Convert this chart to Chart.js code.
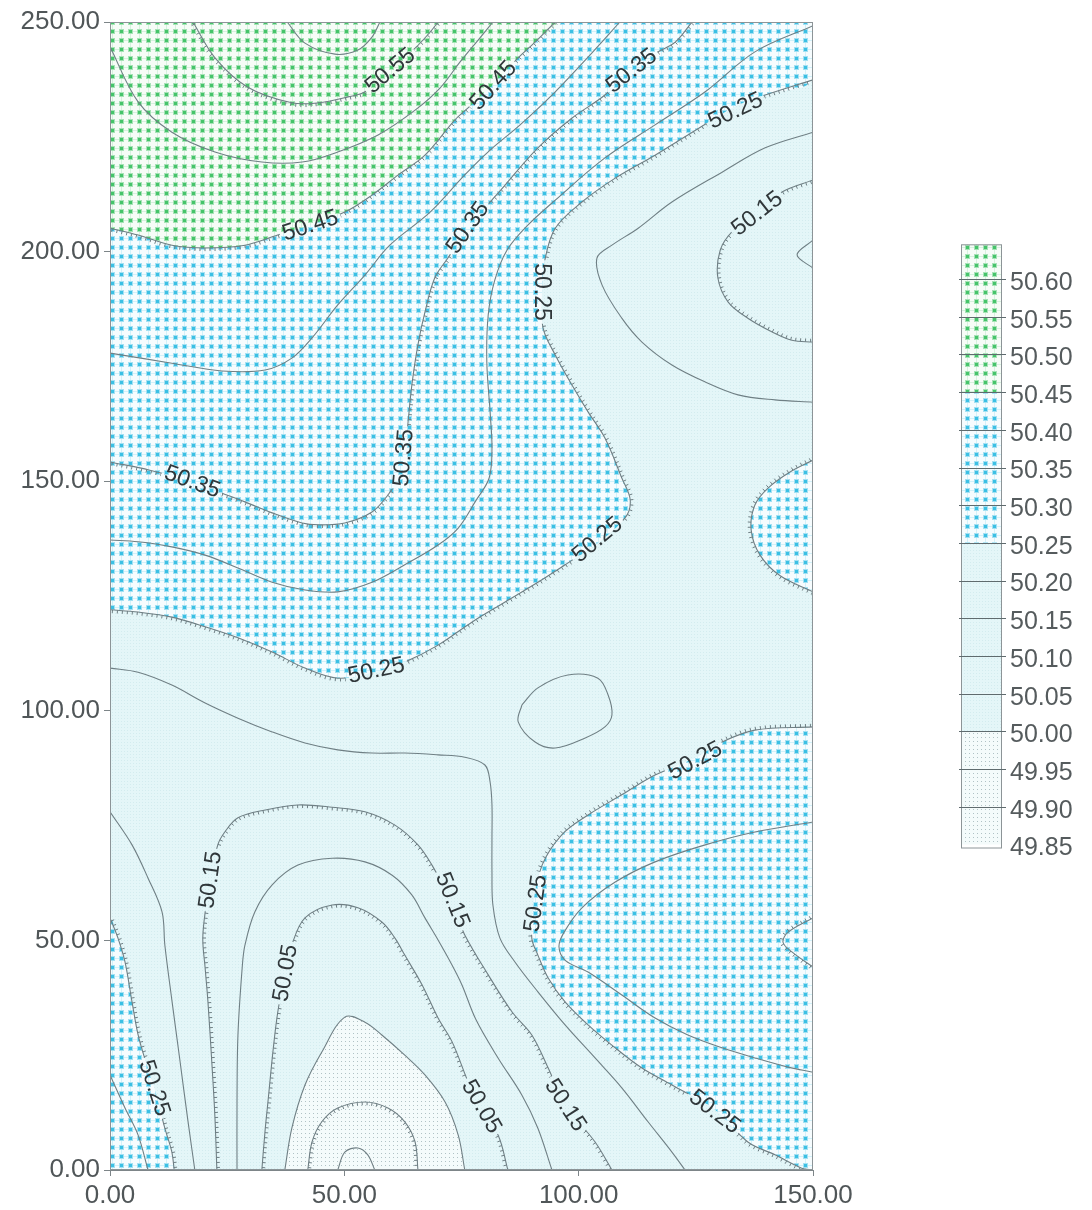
<!DOCTYPE html>
<html>
<head>
<meta charset="utf-8">
<title>Contour map</title>
<script src="https://cdn.jsdelivr.net/npm/chart.js@4.4.1/dist/chart.umd.min.js"></script>
<style>
  html, body { margin: 0; padding: 0; background: #ffffff; }
  #wrap { position: relative; width: 1092px; height: 1210px; }
</style>
</head>
<body>
<div id="wrap"><canvas id="map"></canvas></div>
<script>
// ---- axes ----
const X_MIN = 0, X_MAX = 150, Y_MIN = 0, Y_MAX = 250;
const X_TICKS = [0, 50, 100, 150];
const Y_TICKS = [0, 50, 100, 150, 200, 250];
const LEGEND_LEVELS = [50.60, 50.55, 50.50, 50.45, 50.40, 50.35, 50.30, 50.25,
                       50.20, 50.15, 50.10, 50.05, 50.00, 49.95, 49.90, 49.85];

// ---- contour polylines, [x, y] in map units ----
// hachured lines run with the downhill side on their right
const c5060  = [[37.8,250],[41.6,245.4],[48.0,243.0],[52.9,243.9],[55.9,246.7],[57.6,250]];
const c5055  = [[17.7,250],[22.4,242.2],[29.4,235.8],[38.8,232.4],[44.4,232.4],[50.8,233.7],[54.4,234.8],[59.7,239.5],[65.1,244.3],[68.3,247.8],[70.0,250]];
const c5050  = [[0,244.6],[6.0,232.6],[13.2,226.0],[22.4,221.7],[32.4,219.5],[41.0,219.5],[48.6,221.7],[57.2,225.4],[65.1,230.8],[70.4,235.6],[74.7,241.3],[78.9,246.5],[81.7,250]];
const c5045  = [[0,205.1],[6.0,203.6],[13.2,201.4],[20.3,200.8],[28.8,201.4],[35.8,203.6],[42.7,205.8],[50.1,208.6],[55.9,212.3],[61.5,216.7],[67.2,221.0],[73.6,228.7],[76.4,231.3],[81.7,236.3],[87.1,242.2],[90.7,245.6],[95.0,250]];
const c5040  = [[0,177.9],[13.2,175.7],[23.9,174.0],[33.1,174.2],[38.8,176.8],[43.1,181.2],[48.6,188.4],[54.4,194.9],[59.7,201.4],[68.3,208.6],[75.7,216.7],[81.1,222.1],[87.5,227.6],[95.0,234.8],[102.4,242.8],[108.8,250]];
const c5035a = [[0,154.2],[8.5,152.4],[17.7,149.8],[23.9,147.4],[28.8,145.5],[34.6,143.1],[41.0,140.9],[44.4,140.5],[50.1,140.9],[55.9,143.3],[59.3,147.0],[61.5,150.7],[62.9,155.7],[63.6,162.9],[64.4,170.9],[65.7,179.7],[67.2,186.8],[69.3,194.3],[72.1,198.6],[76.4,205.1],[84.3,214.5],[91.3,222.6],[98.6,229.1],[105.6,234.1],[111.0,239.5],[116.9,243.5],[120.6,245.6],[124.2,250]];
const c5035b = [[150,54.9],[144.7,51.8],[143.6,49.6],[145.5,47.5],[150,44.2]];
const c5030a = [[0,137.2],[6.0,136.8],[13.2,135.7],[20.3,133.9],[27.3,131.1],[34.6,128.0],[41.6,126.3],[48.6,125.9],[55.9,128.0],[62.9,131.8],[70.0,136.1],[74.3,139.8],[77.9,145.5],[80.9,150.7],[81.5,157.2],[81.1,165.1],[80.4,176.0],[80.7,186.2],[82.1,193.8],[84.7,200.3],[89.2,205.8],[95.0,211.2],[105.6,220.4],[116.3,227.6],[127.0,234.8],[137.6,243.5],[150,249.2]];
const c5030b = [[0,20.7],[3.2,13.5],[6.0,7.6],[8.1,0]];
const c5030c = [[150,75.8],[137.6,73.6],[127.0,70.8],[116.3,67.1],[107.8,62.7],[100.7,57.1],[96.9,51.8],[95.8,48.6],[97.2,45.6],[102.0,43.1],[109.2,38.1],[116.3,33.1],[123.3,29.4],[130.6,26.6],[137.6,24.4],[144.7,22.4],[150,21.3]];
const c5025a = [[0,122.0],[6.0,121.5],[13.2,120.4],[20.3,118.3],[27.3,115.9],[34.6,112.8],[41.6,109.3],[48.6,107.1],[56.5,108.4],[62.9,110.6],[70.0,114.3],[77.2,119.3],[84.3,123.7],[91.3,128.0],[97.1,131.8],[103.5,136.1],[109.9,142.0],[111.0,145.9],[109.2,150.7],[105.6,159.4],[102.0,165.1],[98.6,170.9],[95.0,177.5],[92.4,183.4],[92.2,191.6],[92.8,198.2],[95.0,205.1],[100.7,210.8],[107.8,216.0],[116.3,221.0],[123.3,225.4],[134.0,231.9],[139.8,234.1],[150,237.4]];
const c5025b = [[150,154.6],[145.1,152.0],[140.4,148.5],[137.6,144.8],[136.8,139.4],[138.7,133.9],[143.0,129.4],[150,125.9]];
const c5025c = [[150,96.5],[137.6,95.8],[130.6,93.2],[124.8,89.7],[116.3,86.0],[109.2,81.7],[102.0,77.3],[96.4,73.0],[92.2,66.4],[90.3,57.7],[90.0,50.5],[91.3,46.8],[93.5,41.8],[97.1,36.6],[102.0,31.6],[107.8,26.6],[113.5,22.2],[119.9,18.5],[129.1,13.1],[136.1,6.1],[141.9,3.3],[147.6,0.4],[150,0]];
const c5025d = [[13.7,0],[13.2,3.9],[11.7,9.1],[9.6,17.4],[7.5,24.0],[6.0,29.4],[4.7,36.6],[3.2,45.3],[1.7,50.5],[0,54.9]];
const c5020a = [[150,226.0],[139.8,222.6],[130.6,217.3],[119.9,210.8],[112.7,205.1],[107.1,201.4],[103.9,198.6],[105.0,192.7],[109.2,185.5],[113.5,180.3],[119.9,175.3],[127.0,171.6],[134.0,168.8],[141.9,167.7],[150,167.2]];
const c5020b = [[0,109.3],[6.0,108.4],[13.2,105.6],[20.3,101.7],[27.3,98.4],[34.6,95.4],[41.6,93.0],[48.6,91.5],[55.9,90.8],[62.9,90.8],[70.0,90.4],[75.7,89.9],[80.0,88.2],[81.1,84.5],[81.5,79.5],[81.5,72.3],[81.5,64.9],[81.7,57.7],[83.2,50.5],[86.4,45.3],[91.3,38.8],[97.1,31.6],[103.5,24.4],[109.2,17.9],[114.8,10.5],[119.9,3.9],[122.7,0]];
const c5020c = [[0,78.0],[4.7,70.8],[8.1,63.6],[11.1,56.2],[11.7,49.0],[13.2,37.0],[14.9,24.0],[16.6,10.9],[18.1,0]];
const c5020d = [[87.9,101.3],[91.3,105.0],[97.7,107.8],[104.1,107.1],[106.3,103.4],[107.1,99.1],[105.6,96.5],[101.4,94.1],[95.0,91.9],[90.7,93.2],[87.1,97.6],[87.9,101.3]];
const c5015a = [[150,180.3],[145.5,180.7],[141.3,182.5],[136.1,185.5],[131.9,189.0],[129.7,194.3],[130.2,200.3],[132.7,204.3],[138.0,208.6],[143.4,213.0],[150,215.6]];
const c5015b = [[22.8,0],[22.4,11.3],[21.8,22.2],[20.9,36.6],[20.3,44.0],[19.8,50.5],[20.5,57.7],[21.3,63.2],[23.0,70.8],[24.5,73.6],[27.3,76.7],[33.1,78.4],[40.1,79.5],[47.4,79.0],[54.4,78.0],[60.8,75.1],[65.7,70.8],[68.7,66.4],[71.5,61.0],[73.6,56.6],[75.7,51.2],[80.7,42.5],[85.8,34.4],[90.0,29.4],[93.5,22.2],[97.1,14.2],[103.5,6.1],[107.1,0]];
const c5010a = [[150,202.5],[146.6,199.3],[150,196.4]];
const c5010b = [[27.1,0],[27.1,14.8],[27.3,29.4],[28.2,44.0],[28.8,49.0],[30.9,56.2],[34.6,62.1],[40.1,66.4],[47.4,67.9],[54.4,67.1],[60.2,64.2],[64.4,59.9],[67.2,54.9],[70.0,50.1],[73.0,44.6],[75.1,40.3],[78.1,32.7],[82.8,24.4],[87.9,16.3],[91.3,9.1],[94.3,0]];
const c5005  = [[32.4,0],[33.1,8.7],[33.7,14.8],[34.8,26.1],[35.8,34.4],[37.3,42.5],[38.8,49.0],[41.6,54.9],[47.4,57.7],[52.9,57.1],[58.0,54.0],[60.8,50.5],[62.9,46.8],[66.6,40.3],[70.0,33.1],[73.0,27.9],[76.4,19.2],[78.9,13.5],[82.8,7.6],[84.9,0]];
const c5000  = [[37.3,0],[38.8,9.1],[41.6,18.5],[45.2,25.7],[50.1,33.3],[54.4,32.2],[58.0,29.4],[62.9,25.0],[67.2,20.7],[71.5,14.8],[74.3,7.6],[75.7,0]];
const c4995  = [[42.2,0],[43.1,6.1],[45.2,10.5],[48.6,13.5],[54.4,14.8],[59.3,13.5],[62.9,10.5],[65.1,6.1],[65.7,0]];
const c4990  = [[48.6,0],[50.1,3.9],[52.9,4.8],[55.0,3.3],[56.5,0]];

const contours = [
  {level: 50.60, pts: c5060}, {level: 50.55, pts: c5055}, {level: 50.50, pts: c5050},
  {level: 50.45, pts: c5045}, {level: 50.40, pts: c5040},
  {level: 50.35, pts: c5035a}, {level: 50.35, pts: c5035b},
  {level: 50.30, pts: c5030a}, {level: 50.30, pts: c5030b}, {level: 50.30, pts: c5030c},
  {level: 50.25, pts: c5025a}, {level: 50.25, pts: c5025b}, {level: 50.25, pts: c5025c}, {level: 50.25, pts: c5025d},
  {level: 50.20, pts: c5020a}, {level: 50.20, pts: c5020b}, {level: 50.20, pts: c5020c}, {level: 50.20, pts: c5020d},
  {level: 50.15, pts: c5015a}, {level: 50.15, pts: c5015b},
  {level: 50.10, pts: c5010a}, {level: 50.10, pts: c5010b},
  {level: 50.05, pts: c5005}, {level: 50.00, pts: c5000},
  {level: 49.95, pts: c4995}, {level: 49.90, pts: c4990}
];

// contour labels: [level, x, y, rotation in degrees]
const contourLabels = [
  [50.55, 59.7, 239.5, -40], [50.45, 81.7, 236.3, -48], [50.35, 111.2, 239.5, -38],
  [50.25, 133.4, 230.8, -25], [50.15, 138.0, 208.4, -38], [50.45, 42.7, 205.8, -18],
  [50.35, 76.2, 205.3, -55], [50.25, 92.2, 191.2, 90], [50.35, 62.5, 155.1, -85],
  [50.35, 17.6, 150.0, 20], [50.25, 103.9, 137.4, -40], [50.25, 56.8, 108.9, -12],
  [50.25, 124.8, 89.3, -28], [50.15, 21.3, 63.2, -82], [50.15, 73.2, 58.8, 68],
  [50.25, 90.7, 58.1, -82], [50.05, 37.3, 42.9, -80], [50.25, 9.6, 17.9, 72],
  [50.05, 79.4, 13.9, 60], [50.15, 97.3, 14.2, 57], [50.25, 129.1, 12.8, 37]
];

// band edges used for the shaded zones
const GREEN_FROM = 50.45, CYAN_FROM = 50.25, LOW_BELOW = 50.00;

// ---- fill textures ----
function makePattern(step, paint) {
  const c = document.createElement('canvas');
  c.width = c.height = step;
  const g = c.getContext('2d');
  paint(g, step);
  return g.createPattern(c, 'repeat');
}
const PAT = {
  green: makePattern(9, (g, s) => {
    g.fillStyle = '#f6fcf7'; g.fillRect(0, 0, s, s);
    g.fillStyle = '#d6f1de'; g.fillRect(0, 4, s, 1); g.fillRect(4, 0, 1, s);
    g.fillStyle = '#a6e2b6'; g.fillRect(2, 2, 5, 5);
    g.fillStyle = '#45c46a'; g.fillRect(3, 3, 3, 3);
  }),
  cyan: makePattern(9, (g, s) => {
    g.fillStyle = '#f6fcfe'; g.fillRect(0, 0, s, s);
    g.fillStyle = '#d2f1f9'; g.fillRect(0, 4, s, 1); g.fillRect(4, 0, 1, s);
    g.fillStyle = '#a4e0f2'; g.fillRect(2, 2, 5, 5);
    g.fillStyle = '#3bc0e4'; g.fillRect(3, 3, 3, 3);
  }),
  pale: makePattern(3, (g, s) => {
    g.fillStyle = '#e4f6f8'; g.fillRect(0, 0, s, s);
    g.fillStyle = '#d3ecef'; g.fillRect(1, 1, 1, 1);
  }),
  low: makePattern(4, (g, s) => {
    g.fillStyle = '#f4fbfb'; g.fillRect(0, 0, s, s);
    g.fillStyle = '#b0c2c5'; g.fillRect(1, 1, 1, 1);
  })
};

const LINE_COLOR = '#6f7f84';
const TENSION = 0.35;
const toXY = pts => pts.map(([x, y]) => ({x, y}));

// shaded zones, each closed along the frame
const zones = [
  {pattern: PAT.cyan,  order: 3, pts: [...c5025a, [X_MAX, Y_MAX], [X_MIN, Y_MAX]]},
  {pattern: PAT.cyan,  order: 3, pts: c5025b},
  {pattern: PAT.cyan,  order: 3, pts: c5025c},
  {pattern: PAT.cyan,  order: 3, pts: [...c5025d, [X_MIN, Y_MIN]]},
  {pattern: PAT.green, order: 2, pts: [...c5045, [X_MIN, Y_MAX]]},
  {pattern: PAT.low,   order: 2, pts: c5000}
];

const datasets = [];
zones.forEach(z => datasets.push({
  data: toXY(z.pts), showLine: true, fill: 'shape', backgroundColor: z.pattern,
  borderColor: 'rgba(0,0,0,0)', borderWidth: 1, pointRadius: 0, tension: TENSION, order: z.order
}));
contours.forEach(c => datasets.push({
  data: toXY(c.pts), showLine: true, fill: false, borderColor: LINE_COLOR, borderWidth: 1.1,
  pointRadius: 0, tension: TENSION, order: 0,
  isContour: true, hachured: Math.round(c.level * 100) % 10 === 5
}));

// ---- drawing helpers ----
const LABEL_FONT = '23px "Liberation Sans", Arial, sans-serif';
const AXIS_FONT = {family: '"Liberation Sans", Arial, sans-serif', size: 26};

function labelBoxes(chart) {
  const ctx = chart.ctx;
  ctx.save();
  ctx.font = LABEL_FONT;
  const xs = chart.scales.x, ys = chart.scales.y;
  const out = contourLabels.map(([lv, x, y, ang]) => {
    const text = lv.toFixed(2);
    return {text, cx: xs.getPixelForValue(x), cy: ys.getPixelForValue(y),
            a: ang * Math.PI / 180, w: ctx.measureText(text).width + 6, h: 19};
  });
  ctx.restore();
  return out;
}

function rotRect(ctx, b) {
  const c = Math.cos(b.a), s = Math.sin(b.a), hw = b.w / 2, hh = b.h / 2;
  const p = [[-hw, -hh], [hw, -hh], [hw, hh], [-hw, hh]]
    .map(([u, v]) => [b.cx + u * c - v * s, b.cy + u * s + v * c]);
  ctx.moveTo(p[0][0], p[0][1]);
  for (let i = 1; i < 4; i++) ctx.lineTo(p[i][0], p[i][1]);
  ctx.closePath();
}

// samples the drawn bezier path of a line dataset
function sampleCurve(pts) {
  const out = [];
  for (let i = 0; i < pts.length - 1; i++) {
    const p0 = pts[i], p1 = pts[i + 1];
    const c1x = p0.cp2x ?? p0.x, c1y = p0.cp2y ?? p0.y;
    const c2x = p1.cp1x ?? p1.x, c2y = p1.cp1y ?? p1.y;
    for (let k = i === 0 ? 0 : 1; k <= 20; k++) {
      const t = k / 20, u = 1 - t;
      out.push([
        u * u * u * p0.x + 3 * u * u * t * c1x + 3 * u * t * t * c2x + t * t * t * p1.x,
        u * u * u * p0.y + 3 * u * u * t * c1y + 3 * u * t * t * c2y + t * t * t * p1.y
      ]);
    }
  }
  return out;
}

function drawHachures(ctx, pts) {
  const path = sampleCurve(pts);
  const gap = 5, len = 3.2;
  let acc = gap / 2;
  ctx.beginPath();
  for (let i = 0; i < path.length - 1; i++) {
    const [x0, y0] = path[i], [x1, y1] = path[i + 1];
    const dx = x1 - x0, dy = y1 - y0, d = Math.hypot(dx, dy);
    if (d === 0) continue;
    let pos = acc;
    while (pos <= d) {
      const t = pos / d, px = x0 + dx * t, py = y0 + dy * t;
      const nx = -dy / d, ny = dx / d;
      ctx.moveTo(px, py);
      ctx.lineTo(px + nx * len, py + ny * len);
      pos += gap;
    }
    acc = pos - d;
  }
  ctx.strokeStyle = LINE_COLOR;
  ctx.lineWidth = 1;
  ctx.stroke();
}

const mapDecor = {
  id: 'mapDecor',
  beforeDatasetsDraw(chart) {
    const {ctx, chartArea: a} = chart;
    ctx.save();
    ctx.fillStyle = PAT.pale;
    ctx.fillRect(a.left, a.top, a.right - a.left, a.bottom - a.top);
    ctx.restore();
    chart.$boxes = labelBoxes(chart);
  },
  beforeDatasetDraw(chart, args) {
    const ds = chart.data.datasets[args.index];
    if (!ds.isContour) return;
    const {ctx, chartArea: a} = chart;
    ctx.save();
    ctx.beginPath();
    ctx.rect(a.left, a.top, a.right - a.left, a.bottom - a.top);
    ctx.clip();
    ctx.beginPath();
    ctx.rect(0, 0, chart.width, chart.height);
    chart.$boxes.forEach(b => rotRect(ctx, b));
    ctx.clip('evenodd');
  },
  afterDatasetDraw(chart, args) {
    const ds = chart.data.datasets[args.index];
    if (!ds.isContour) return;
    if (ds.hachured) drawHachures(chart.ctx, args.meta.data);
    chart.ctx.restore();
  },
  afterDatasetsDraw(chart) {
    const {ctx, chartArea: a} = chart;
    ctx.save();
    ctx.font = LABEL_FONT;
    ctx.fillStyle = '#30373a';
    ctx.textAlign = 'center';
    ctx.textBaseline = 'middle';
    chart.$boxes.forEach(b => {
      ctx.save();
      ctx.translate(b.cx, b.cy);
      ctx.rotate(b.a);
      ctx.fillText(b.text, 0, 1);
      ctx.restore();
    });
    ctx.strokeStyle = '#8c9497';
    ctx.lineWidth = 1;
    ctx.strokeRect(a.left + 0.5, a.top + 0.5, a.right - a.left - 1, a.bottom - a.top - 1);
    ctx.restore();
  },
  afterDraw(chart) {
    // colour key
    const ctx = chart.ctx;
    const left = 961, right = 1002, y0 = 282, step = 37.7;
    const yOf = v => y0 + (LEGEND_LEVELS[0] - v) / 0.05 * step;
    const patFor = lo => lo >= GREEN_FROM - 1e-6 ? PAT.green
                     : lo >= CYAN_FROM - 1e-6 ? PAT.cyan
                     : lo >= LOW_BELOW - 1e-6 ? PAT.pale : PAT.low;
    ctx.save();
    const top = yOf(LEGEND_LEVELS[0] + 0.05);
    const segs = [LEGEND_LEVELS[0] + 0.05, ...LEGEND_LEVELS];
    for (let i = 0; i < segs.length - 1; i++) {
      const ya = yOf(segs[i]) - 3, yb = yOf(segs[i + 1]) - 3;
      ctx.fillStyle = patFor(segs[i + 1]);
      ctx.fillRect(left, i === 0 ? top : ya, right - left, yb - (i === 0 ? top : ya));
    }
    const bottom = yOf(LEGEND_LEVELS[LEGEND_LEVELS.length - 1]);
    ctx.strokeStyle = '#8c9497';
    ctx.lineWidth = 1;
    ctx.strokeRect(left + 0.5, top + 0.5, right - left - 1, bottom - top);
    ctx.strokeStyle = '#5f6b6e';
    ctx.beginPath();
    LEGEND_LEVELS.slice(0, -1).forEach(v => {
      const y = Math.round(yOf(v) - 3) + 0.5;
      ctx.moveTo(left - 2, y);
      ctx.lineTo(right + 4, y);
    });
    ctx.stroke();
    ctx.font = '25px "Liberation Sans", Arial, sans-serif';
    ctx.fillStyle = '#555b5d';
    ctx.textAlign = 'left';
    ctx.textBaseline = 'middle';
    LEGEND_LEVELS.forEach(v => ctx.fillText(v.toFixed(2), 1010, yOf(v) + 1));
    ctx.restore();
  }
};

const axisCommon = {
  type: 'linear',
  grid: {display: true, drawOnChartArea: false, drawTicks: true, tickLength: 6, color: '#7d8588'},
  border: {display: true, color: '#7d8588', width: 1},
  ticks: {color: '#505658', font: AXIS_FONT, padding: 4, callback: v => Number(v).toFixed(2)}
};

new Chart(document.getElementById('map'), {
  type: 'scatter',
  data: {datasets},
  options: {
    responsive: true,
    maintainAspectRatio: false,
    animation: false,
    events: [],
    layout: {padding: {left: 0, top: 22, right: 279, bottom: 0}},
    plugins: {legend: {display: false}, tooltip: {enabled: false}},
    scales: {
      x: {...axisCommon, position: 'bottom', min: X_MIN, max: X_MAX,
          afterBuildTicks: s => { s.ticks = X_TICKS.map(value => ({value})); },
          afterFit: s => { s.height = 40; }},
      y: {...axisCommon, position: 'left', min: Y_MIN, max: Y_MAX,
          afterBuildTicks: s => { s.ticks = Y_TICKS.map(value => ({value})); },
          afterFit: s => { s.width = 110; }}
    }
  },
  plugins: [mapDecor]
});
</script>
</body>
</html>
